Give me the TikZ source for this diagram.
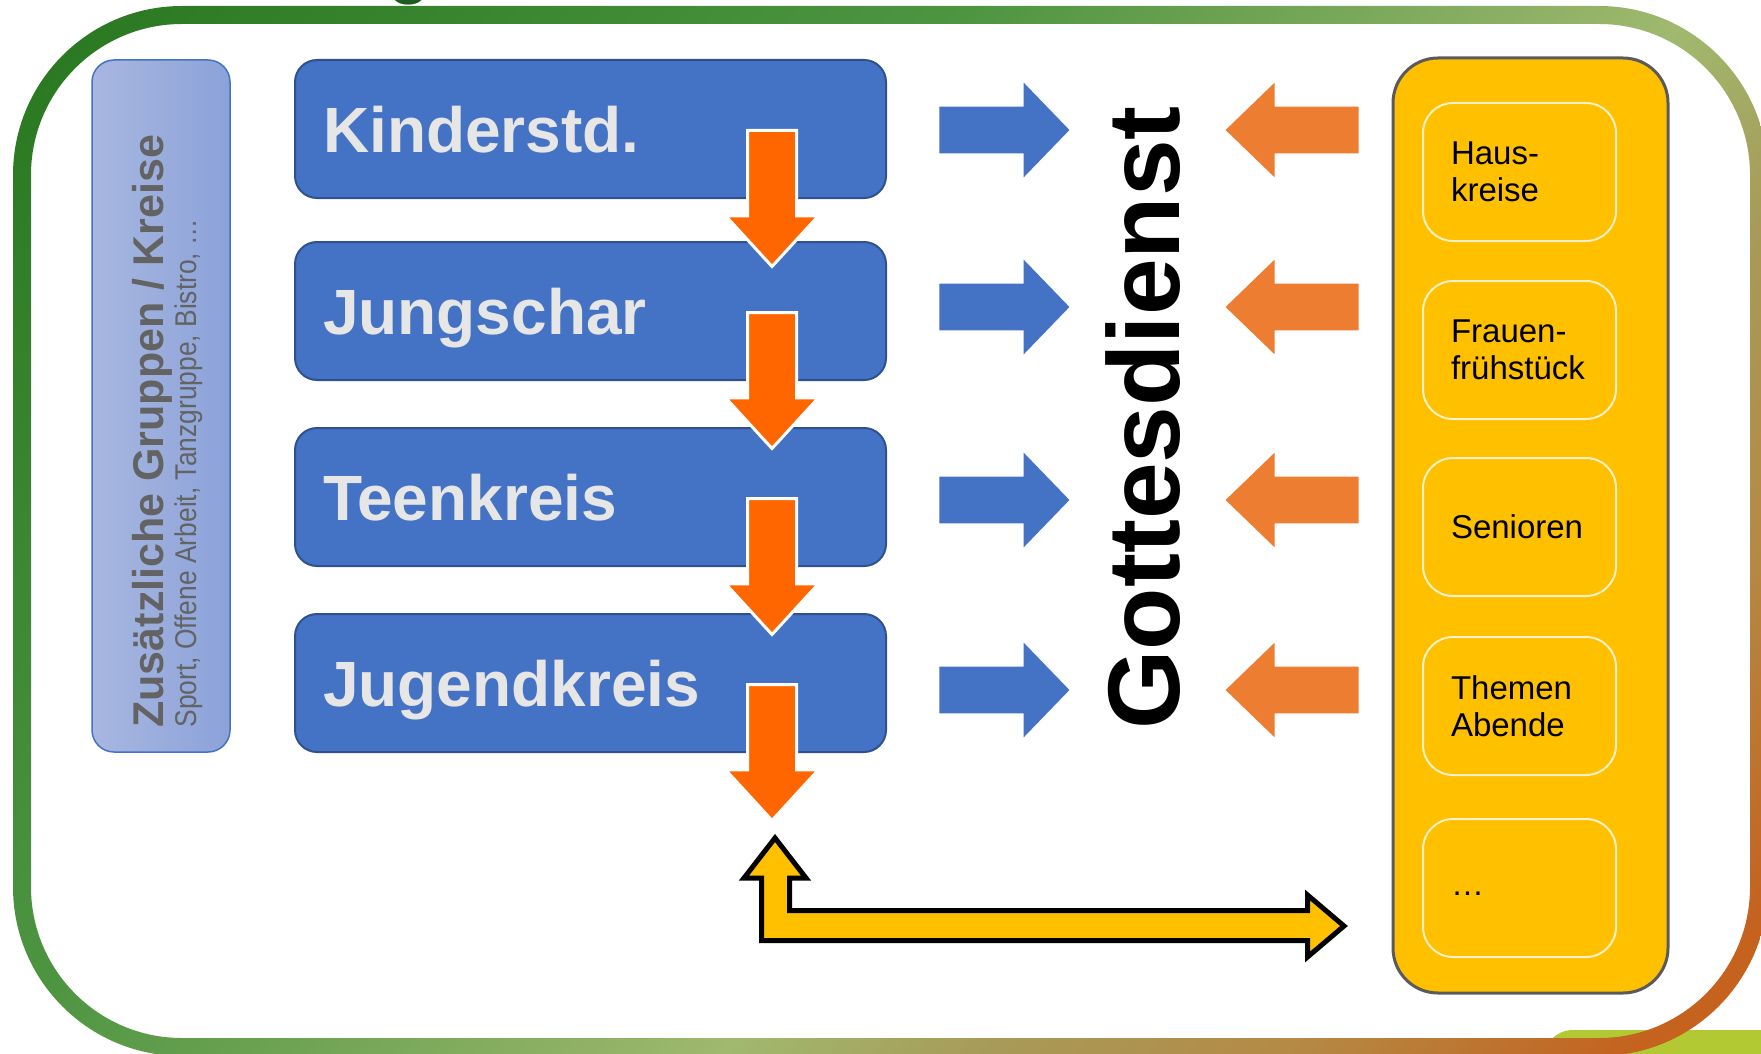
\documentclass[tikz,border=0pt]{standalone}
\usepackage{graphicx}
\usepackage{fontspec}
\setmainfont{Liberation Sans}
\usetikzlibrary{shapes.arrows}

\definecolor{boxblue}{HTML}{4472C4}
\definecolor{boxedge}{HTML}{2F528F}
\definecolor{boxtext}{HTML}{E7E6E6}
\definecolor{downorange}{HTML}{FF6600}
\definecolor{leftorange}{HTML}{ED7D31}
\definecolor{gold}{HTML}{FFC000}
\definecolor{goldedge}{HTML}{5A5A5A}
\definecolor{goldline}{HTML}{FFF0C8}
\definecolor{sideleft}{HTML}{A8B7E0}
\definecolor{sideright}{HTML}{8BA2D9}
\definecolor{sidegray}{HTML}{636363}
\definecolor{limegreen}{HTML}{B2C934}
\definecolor{titlegreen}{HTML}{1F5C22}
\definecolor{ringdark}{HTML}{287820}
\definecolor{ringmid}{HTML}{4E9542}
\definecolor{ringlight}{HTML}{A0B96E}
\definecolor{ringolive}{HTML}{A89A58}
\definecolor{ringtan}{HTML}{B48A45}
\definecolor{ringorange}{HTML}{C4621E}

\pgfdeclarehorizontalshading{ringfade}{100bp}{color(0bp)=(ringdark); color(23.4bp)=(ringdark); color(42bp)=(ringmid); color(56.4bp)=(ringlight); color(61.7bp)=(ringolive); color(67.6bp)=(ringtan); color(74.5bp)=(ringorange); color(100bp)=(ringorange)}

\begin{document}
\begin{tikzpicture}[
  x=0.5pt, y=-0.5pt,
  agebox/.style={draw=boxedge, line width=1pt, fill=boxblue, rounded corners=11pt, minimum width=295.5pt, minimum height=69pt, text width=267.5pt, inner xsep=14pt, align=left, text depth=0pt, text=boxtext, font=\fontsize{32}{38}\selectfont\bfseries},
  groupbox/.style={draw=goldline, line width=1pt, fill=gold, rounded corners=15pt, minimum width=96.5pt, minimum height=69pt, text width=68.5pt, inner xsep=14pt, align=left, font=\fontsize{16.5}{18.5}\selectfont},
  toright/.style={single arrow, fill=boxblue, minimum height=65pt, inner sep=11.5pt, single arrow head extend=12pt, single arrow tip angle=92, anchor=tail},
  toleft/.style={single arrow, fill=leftorange, shape border rotate=180, minimum height=66.5pt, inner sep=11.5pt, single arrow head extend=12pt, single arrow tip angle=88, anchor=tail},
  todown/.style={single arrow, fill=downorange, draw=white, line width=1.5pt, shape border rotate=270, minimum height=68pt, inner sep=11.5pt, single arrow head extend=11pt, single arrow tip angle=85, anchor=tail},
  vertical/.style={rotate=90, anchor=base west, inner sep=0pt}
]
\useasboundingbox (0,0) rectangle (1761,1054);

% Frame
\fill[limegreen, rounded corners=15pt] (1543,1030) rectangle (1830,1130);
\begin{scope}[even odd rule]
  \clip[rounded corners=84.5pt] (13,6) rectangle (1768,1056) {[rounded corners=75.5pt] (31,24) rectangle (1750,1038)};
  \shade[shading=ringfade, shading angle=-43] (-35,-395) rectangle (1815,1455);
\end{scope}
\node[inner sep=0pt, anchor=base, text=titlegreen, font=\fontsize{34.5}{38}\selectfont\bfseries] (title) at (410,-9.5) {g};

% Side groups
\node[draw=boxblue, line width=0.75pt, left color=sideleft, right color=sideright, rounded corners=11pt, minimum width=69pt, minimum height=346pt] (extra) at (161,406) {};
\node[vertical, text=sidegray, font=\fontsize{21.5}{24}\selectfont\bfseries] (extratitle) at (163,728) {Zusätzliche Gruppen / Kreise};
\node[vertical, text=sidegray, font=\fontsize{15}{17}\selectfont] (extralist) at (196,728) {\scalebox{0.88}[1]{Sport, Offene Arbeit, Tanzgruppe, Bistro, …}};

% Age groups
\node[agebox] (kinder) at (590.5,129) {Kinderstd.};
\node[agebox] (jungschar) at (590.5,311) {Jungschar};
\node[agebox] (teen) at (590.5,497) {Teenkreis};
\node[agebox] (jugend) at (590.5,683) {Jugendkreis};

% Transitions
\node[todown] (kinderdown) at (772,129) {};
\node[todown] (jungschardown) at (772,311) {};
\node[todown] (teendown) at (772,497) {};
\node[todown] (jugenddown) at (772,683) {};

% Into the service
\node[toright] (kinderin) at (939,130) {};
\node[toright] (jungscharin) at (939,307) {};
\node[toright] (teenin) at (939,500) {};
\node[toright] (jugendin) at (939,690) {};
\node[vertical, font=\fontsize{51}{56}\selectfont\bfseries] (service) at (1179,730) {Gottesdienst};
\node[toleft] (hausin) at (1359,130) {};
\node[toleft] (frauenin) at (1359,307) {};
\node[toleft] (seniorenin) at (1359,500) {};
\node[toleft] (themenin) at (1359,690) {};

% Adult groups
\node[draw=goldedge, line width=1.5pt, fill=gold, rounded corners=22.5pt, minimum width=137.5pt, minimum height=467.5pt] (adults) at (1530.5,525.5) {};
\node[groupbox] (haus) at (1519.5,172) {Haus-\\kreise};
\node[groupbox] (frauen) at (1519.5,350) {Frauen-\\frühstück};
\node[groupbox] (senioren) at (1519.5,527) {Senioren};
\node[groupbox] (themen) at (1519.5,706) {Themen\\Abende};
\node[groupbox] (more) at (1519.5,888) {\strut…};

% Bridge to the adult groups
\draw[fill=gold, line width=2.5pt] (775,838) -- (806,878) -- (789.5,878) -- (789.5,910.5) -- (1307.5,910.5) -- (1307.5,895) -- (1344,926) -- (1307.5,957) -- (1307.5,940.5) -- (761.5,940.5) -- (761.5,878) -- (744,878) -- cycle;

\end{tikzpicture}
\end{document}
